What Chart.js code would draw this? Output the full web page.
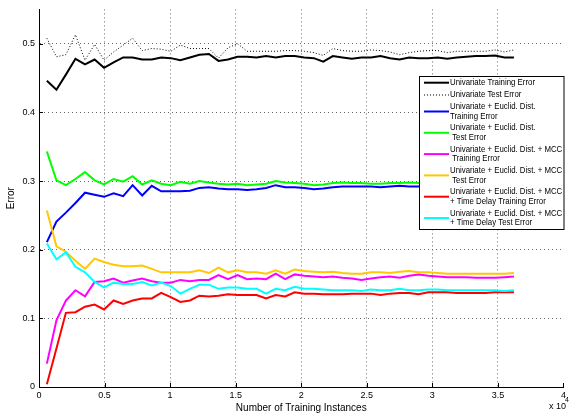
<!DOCTYPE html>
<html>
<head>
<meta charset="utf-8">
<script src="https://cdn.jsdelivr.net/npm/chart.js@4.4.1/dist/chart.umd.min.js"></script>
<style>
    html, body { margin: 0; padding: 0; background: #fff; }
    canvas { display: block; }
</style>
</head>
<body>
<canvas id="errorChart" width="569" height="415"></canvas>
<script>
// Training set sizes (x 10^4)
const instances = [
    0.060, 0.133, 0.205, 0.278, 0.351, 0.424, 0.496, 0.569, 0.642, 0.714,
    0.787, 0.860, 0.932, 1.005, 1.078, 1.151, 1.223, 1.296, 1.369, 1.441,
    1.514, 1.587, 1.659, 1.732, 1.805, 1.878, 1.950, 2.023, 2.096, 2.168,
    2.241, 2.314, 2.386, 2.459, 2.532, 2.605, 2.677, 2.750, 2.823, 2.895,
    2.968, 3.041, 3.113, 3.186, 3.259, 3.332, 3.404, 3.477, 3.550, 3.622
];

// Error series
const uniTrain = [
    0.446, 0.433, 0.455, 0.478, 0.470, 0.477, 0.465, 0.473, 0.480, 0.480,
    0.477, 0.477, 0.480, 0.479, 0.476, 0.480, 0.484, 0.485, 0.475, 0.477,
    0.481, 0.481, 0.480, 0.482, 0.480, 0.482, 0.482, 0.480, 0.479, 0.474,
    0.482, 0.480, 0.478, 0.480, 0.480, 0.482, 0.479, 0.477, 0.480, 0.479,
    0.479, 0.480, 0.478, 0.480, 0.481, 0.482, 0.482, 0.483, 0.480, 0.480
];
const uniTest = [
    0.508, 0.481, 0.484, 0.513, 0.476, 0.499, 0.476, 0.488, 0.498, 0.508,
    0.490, 0.493, 0.492, 0.489, 0.498, 0.493, 0.493, 0.493, 0.479, 0.494,
    0.500, 0.489, 0.489, 0.489, 0.489, 0.490, 0.490, 0.489, 0.487, 0.483,
    0.493, 0.490, 0.489, 0.489, 0.491, 0.490, 0.488, 0.484, 0.487, 0.489,
    0.490, 0.490, 0.487, 0.489, 0.489, 0.489, 0.489, 0.491, 0.488, 0.491
];
const eucTrain = [
    0.211, 0.241, 0.254, 0.268, 0.283, 0.280, 0.277, 0.282, 0.278, 0.294,
    0.279, 0.293, 0.285, 0.285, 0.285, 0.286, 0.290, 0.291, 0.289, 0.288,
    0.288, 0.287, 0.288, 0.290, 0.294, 0.291, 0.291, 0.290, 0.288, 0.289,
    0.291, 0.292, 0.292, 0.292, 0.292, 0.291, 0.292, 0.293, 0.292, 0.292,
    0.292, 0.292, 0.292, 0.292, 0.292, 0.292, 0.292, 0.292, 0.292, 0.292
];
const eucTest = [
    0.343, 0.301, 0.294, 0.303, 0.313, 0.301, 0.295, 0.303, 0.299, 0.307,
    0.295, 0.301, 0.296, 0.294, 0.299, 0.296, 0.300, 0.298, 0.296, 0.295,
    0.296, 0.294, 0.295, 0.296, 0.300, 0.298, 0.297, 0.296, 0.294, 0.295,
    0.297, 0.298, 0.297, 0.297, 0.296, 0.296, 0.297, 0.297, 0.298, 0.297,
    0.296, 0.297, 0.298, 0.297, 0.297, 0.298, 0.298, 0.297, 0.297, 0.297
];
const mccTrain = [
    0.034, 0.097, 0.126, 0.141, 0.132, 0.153, 0.154, 0.158, 0.152, 0.155,
    0.158, 0.154, 0.152, 0.152, 0.156, 0.154, 0.156, 0.156, 0.163, 0.157,
    0.163, 0.157, 0.158, 0.157, 0.165, 0.157, 0.164, 0.162, 0.161, 0.160,
    0.161, 0.159, 0.158, 0.156, 0.158, 0.160, 0.161, 0.159, 0.162, 0.164,
    0.162, 0.161, 0.160, 0.160, 0.160, 0.159, 0.159, 0.159, 0.160, 0.161
];
const mccTest = [
    0.257, 0.205, 0.197, 0.184, 0.172, 0.187, 0.182, 0.178, 0.176, 0.176,
    0.177, 0.172, 0.167, 0.167, 0.167, 0.167, 0.170, 0.166, 0.174, 0.167,
    0.170, 0.167, 0.167, 0.165, 0.170, 0.165, 0.171, 0.169, 0.168, 0.167,
    0.168, 0.166, 0.165, 0.165, 0.167, 0.167, 0.166, 0.168, 0.169, 0.167,
    0.167, 0.166, 0.165, 0.165, 0.165, 0.165, 0.165, 0.165, 0.165, 0.166
];
const delayTrain = [
    0.004, 0.056, 0.108, 0.109, 0.117, 0.120, 0.113, 0.126, 0.121, 0.126,
    0.129, 0.129, 0.137, 0.131, 0.124, 0.126, 0.133, 0.132, 0.133, 0.135,
    0.134, 0.134, 0.134, 0.129, 0.134, 0.132, 0.138, 0.136, 0.136, 0.135,
    0.135, 0.135, 0.136, 0.136, 0.136, 0.134, 0.136, 0.137, 0.137, 0.135,
    0.138, 0.138, 0.138, 0.137, 0.137, 0.137, 0.137, 0.138, 0.138, 0.138
];
const delayTest = [
    0.209, 0.186, 0.196, 0.175, 0.167, 0.153, 0.145, 0.152, 0.150, 0.150,
    0.153, 0.148, 0.152, 0.147, 0.136, 0.143, 0.149, 0.149, 0.143, 0.145,
    0.145, 0.143, 0.143, 0.136, 0.143, 0.141, 0.146, 0.143, 0.143, 0.142,
    0.141, 0.141, 0.141, 0.140, 0.142, 0.141, 0.141, 0.143, 0.141, 0.141,
    0.142, 0.142, 0.141, 0.141, 0.141, 0.141, 0.141, 0.141, 0.140, 0.141
];

// Tick labels
const xTicks = [0, 0.5, 1, 1.5, 2, 2.5, 3, 3.5, 4];
const yTicks = [0, 0.1, 0.2, 0.3, 0.4, 0.5];

// Legend text, one array per series (line breaks as in the figure)
const legendLines = [
    ['Univariate Training Error'],
    ['Univariate Test Error'],
    ['Univariate + Euclid. Dist.', 'Training Error'],
    ['Univariate + Euclid. Dist.', ' Test Error'],
    ['Univariate + Euclid. Dist. + MCC', ' Training Error'],
    ['Univariate + Euclid. Dist. + MCC', ' Test Error'],
    ['Univariate + Euclid. Dist. + MCC', '+ Time Delay Training Error'],
    ['Univariate + Euclid. Dist. + MCC', '+ Time Delay Test Error']
];

const seriesValues = [uniTrain, uniTest, eucTrain, eucTest, mccTrain, mccTest, delayTrain, delayTest];
const seriesColors = ['#000000', '#000000', '#0000ff', '#00ff00', '#ff00ff', '#ffc800', '#ff0000', '#00ffff'];

const FONT = '"Liberation Sans", Arial, Helvetica, sans-serif';

function toPoints(values) {
    return instances.map((x, i) => ({ x: x, y: values[i] }));
}

const datasets = seriesValues.map((values, i) => ({
    label: legendLines[i].join(' '),
    data: toPoints(values),
    borderColor: seriesColors[i],
    backgroundColor: seriesColors[i],
    borderWidth: i === 1 ? 1 : 2,
    borderDash: i === 1 ? [1, 2] : [],
    pointRadius: 0,
    tension: 0,
    fill: false,
    // later series sit on top, like the original plot
    order: seriesValues.length - 1 - i
}));

// Small inward tick marks, as in the original axes
const innerTicks = {
    id: 'innerTicks',
    afterDatasetsDraw(chart) {
        const { ctx, chartArea, scales } = chart;
        ctx.save();
        ctx.strokeStyle = '#000';
        ctx.lineWidth = 1;
        ctx.beginPath();
        xTicks.forEach(v => {
            const px = Math.round(scales.x.getPixelForValue(v)) + 0.5;
            ctx.moveTo(px, chartArea.bottom);
            ctx.lineTo(px, chartArea.bottom - 4);
        });
        yTicks.forEach(v => {
            const py = Math.round(scales.y.getPixelForValue(v)) + 0.5;
            ctx.moveTo(chartArea.left, py);
            ctx.lineTo(chartArea.left + 4, py);
        });
        ctx.stroke();
        ctx.restore();
    }
};

// Legend box drawn inside the axes (upper right)
const boxLegend = {
    id: 'boxLegend',
    afterDraw(chart) {
        const ctx = chart.ctx;
        const left = 419.5, top = 76.5;
        const right = chart.chartArea.right + 0.5, bottom = 229.5;
        ctx.save();
        ctx.fillStyle = '#fff';
        ctx.fillRect(left, top, right - left, bottom - top);
        ctx.strokeStyle = '#000';
        ctx.lineWidth = 1;
        ctx.setLineDash([]);
        ctx.strokeRect(left, top, right - left, bottom - top);

        const firstLine = [82.7, 95, 106.7, 128, 149.3, 170.6, 191.9, 213.2];
        const lineGap = 9.6;
        ctx.font = '9px ' + FONT;
        ctx.textBaseline = 'middle';
        ctx.textAlign = 'left';
        chart.data.datasets.forEach((ds, i) => {
            const lines = legendLines[i];
            const y0 = firstLine[i];
            const sampleY = y0 + (lines.length - 1) * lineGap / 2;
            ctx.strokeStyle = ds.borderColor;
            ctx.lineWidth = ds.borderWidth;
            ctx.setLineDash(ds.borderDash);
            ctx.beginPath();
            ctx.moveTo(424, sampleY);
            ctx.lineTo(449, sampleY);
            ctx.stroke();
            ctx.setLineDash([]);
            ctx.fillStyle = '#000';
            lines.forEach((text, j) => {
                ctx.save();
                ctx.translate(450, y0 + j * lineGap);
                ctx.scale(0.87, 1);
                ctx.fillText(text, 0, 0);
                ctx.restore();
            });
        });

        // exponent note under the x axis
        ctx.fillStyle = '#000';
        ctx.font = '9px ' + FONT;
        ctx.fillText('x 10', 549, 407);
        ctx.font = '7px ' + FONT;
        ctx.fillText('4', 565, 400);
        ctx.restore();
    }
};

new Chart(document.getElementById('errorChart'), {
    type: 'line',
    data: { datasets: datasets },
    options: {
        responsive: false,
        animation: false,
        devicePixelRatio: 1,
        layout: { padding: { top: 9, right: 2, left: 0, bottom: 0 } },
        plugins: {
            legend: { display: false },
            tooltip: { enabled: false }
        },
        scales: {
            x: {
                type: 'linear',
                min: 0,
                max: 4,
                afterBuildTicks: axis => { axis.ticks = xTicks.map(v => ({ value: v })); },
                afterFit: axis => { axis.height = 28; },
                ticks: {
                    autoSkip: false,
                    maxRotation: 0,
                    padding: 3,
                    color: '#000',
                    font: { size: 9, family: FONT },
                    callback: v => String(v)
                },
                grid: {
                    drawTicks: false,
                    color: ctx => (ctx.tick && ctx.tick.value === 4) ? 'rgba(0,0,0,0)' : '#666',
                    lineWidth: 1
                },
                border: { display: true, color: '#000', width: 1, dash: [1, 3] },
                title: {
                    display: true,
                    text: 'Number of Training Instances',
                    color: '#000',
                    font: { size: 10, family: FONT },
                    padding: { top: 0, bottom: 1 }
                }
            },
            y: {
                type: 'linear',
                min: 0,
                max: 0.55,
                afterBuildTicks: axis => { axis.ticks = yTicks.map(v => ({ value: v })); },
                afterFit: axis => { axis.width = 39; },
                ticks: {
                    padding: 4,
                    color: '#000',
                    font: { size: 9, family: FONT },
                    callback: v => String(v)
                },
                grid: { drawTicks: false, color: '#666', lineWidth: 1 },
                border: { display: true, color: '#000', width: 1, dash: [1, 3] },
                title: {
                    display: true,
                    text: 'Error',
                    color: '#000',
                    font: { size: 10, family: FONT },
                    padding: { top: 5, bottom: 0 }
                }
            }
        }
    },
    plugins: [innerTicks, boxLegend]
});
</script>
</body>
</html>
